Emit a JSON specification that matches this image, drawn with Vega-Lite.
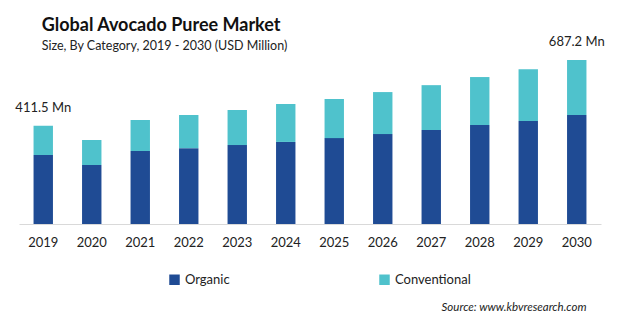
{
  "$schema": "https://vega.github.io/schema/vega-lite/v6.json",
  "width": 582,
  "height": 172,
  "autosize": {"type": "none"},
  "padding": {"left": 19, "top": 52, "right": 19, "bottom": 98},
  "background": "#ffffff",
  "config": {
    "view": {"stroke": null},
    "font": "Lato"
  },
  "title": {
    "text": "Global Avocado Puree Market",
    "subtitle": "Size, By Category, 2019 - 2030 (USD Million)",
    "anchor": "start",
    "dx": 28,
    "offset": -16,
    "font": "Lato",
    "fontSize": 18,
    "fontWeight": "bold",
    "color": "#111111",
    "subtitleFont": "Lato",
    "subtitleFontSize": 12.5,
    "subtitleColor": "#222222",
    "subtitlePadding": 5
  },
  "datasets": {
    "bars": [
      {"year": "2019", "category": "Organic", "value": 289},
      {"year": "2019", "category": "Conventional", "value": 122.5},
      {"year": "2020", "category": "Organic", "value": 247},
      {"year": "2020", "category": "Conventional", "value": 105},
      {"year": "2021", "category": "Organic", "value": 306},
      {"year": "2021", "category": "Conventional", "value": 130},
      {"year": "2022", "category": "Organic", "value": 318},
      {"year": "2022", "category": "Conventional", "value": 139},
      {"year": "2023", "category": "Organic", "value": 331},
      {"year": "2023", "category": "Conventional", "value": 147},
      {"year": "2024", "category": "Organic", "value": 344},
      {"year": "2024", "category": "Conventional", "value": 159},
      {"year": "2025", "category": "Organic", "value": 360},
      {"year": "2025", "category": "Conventional", "value": 164},
      {"year": "2026", "category": "Organic", "value": 377},
      {"year": "2026", "category": "Conventional", "value": 176},
      {"year": "2027", "category": "Organic", "value": 394},
      {"year": "2027", "category": "Conventional", "value": 188},
      {"year": "2028", "category": "Organic", "value": 415},
      {"year": "2028", "category": "Conventional", "value": 201},
      {"year": "2029", "category": "Organic", "value": 432},
      {"year": "2029", "category": "Conventional", "value": 217},
      {"year": "2030", "category": "Organic", "value": 457},
      {"year": "2030", "category": "Conventional", "value": 230.2}
    ],
    "labels": [
      {"year": "2019", "total": 411.5, "label": "411.5  Mn"},
      {"year": "2030", "total": 687.2, "label": "687.2  Mn"}
    ]
  },
  "layer": [
    {
      "data": {"name": "bars"},
      "mark": {"type": "bar"},
      "encoding": {
        "x": {
          "field": "year",
          "type": "nominal",
          "scale": {"paddingInner": 0.6, "paddingOuter": 0.3},
          "axis": {
            "title": "Source: www.kbvresearch.com",
            "titleFont": "Lato",
            "titleFontStyle": "italic",
            "titleFontWeight": "normal",
            "titleFontSize": 11.5,
            "titleColor": "#222222",
            "titleAnchor": "end",
            "titleAlign": "right",
            "titleX": 567,
            "titleY": 77,
            "labelAngle": 0,
            "labelFontSize": 13,
            "labelColor": "#222222",
            "labelPadding": 12,
            "ticks": false,
            "domainColor": "#d9d9d9",
            "domainWidth": 1
          }
        },
        "y": {
          "field": "value",
          "type": "quantitative",
          "stack": "zero",
          "scale": {"domain": [0, 721], "nice": false, "zero": true},
          "axis": null
        },
        "color": {
          "field": "category",
          "type": "nominal",
          "sort": ["Organic", "Conventional"],
          "scale": {"domain": ["Organic", "Conventional"], "range": ["#1f4b94", "#4fc2cc"]},
          "legend": {
            "title": null,
            "orient": "none",
            "direction": "horizontal",
            "legendX": 149,
            "legendY": 221,
            "symbolType": "square",
            "symbolSize": 110,
            "symbolStrokeWidth": 0,
            "labelFontSize": 13,
            "labelColor": "#222222",
            "labelOffset": 4,
            "columnPadding": 148
          }
        },
        "order": {"field": "category", "sort": "descending"}
      }
    },
    {
      "data": {"name": "labels"},
      "mark": {"type": "text", "dy": -18, "fontSize": 13, "color": "#222222", "baseline": "middle"},
      "encoding": {
        "x": {"field": "year", "type": "nominal"},
        "y": {"field": "total", "type": "quantitative"},
        "text": {"field": "label"}
      }
    }
  ]
}
